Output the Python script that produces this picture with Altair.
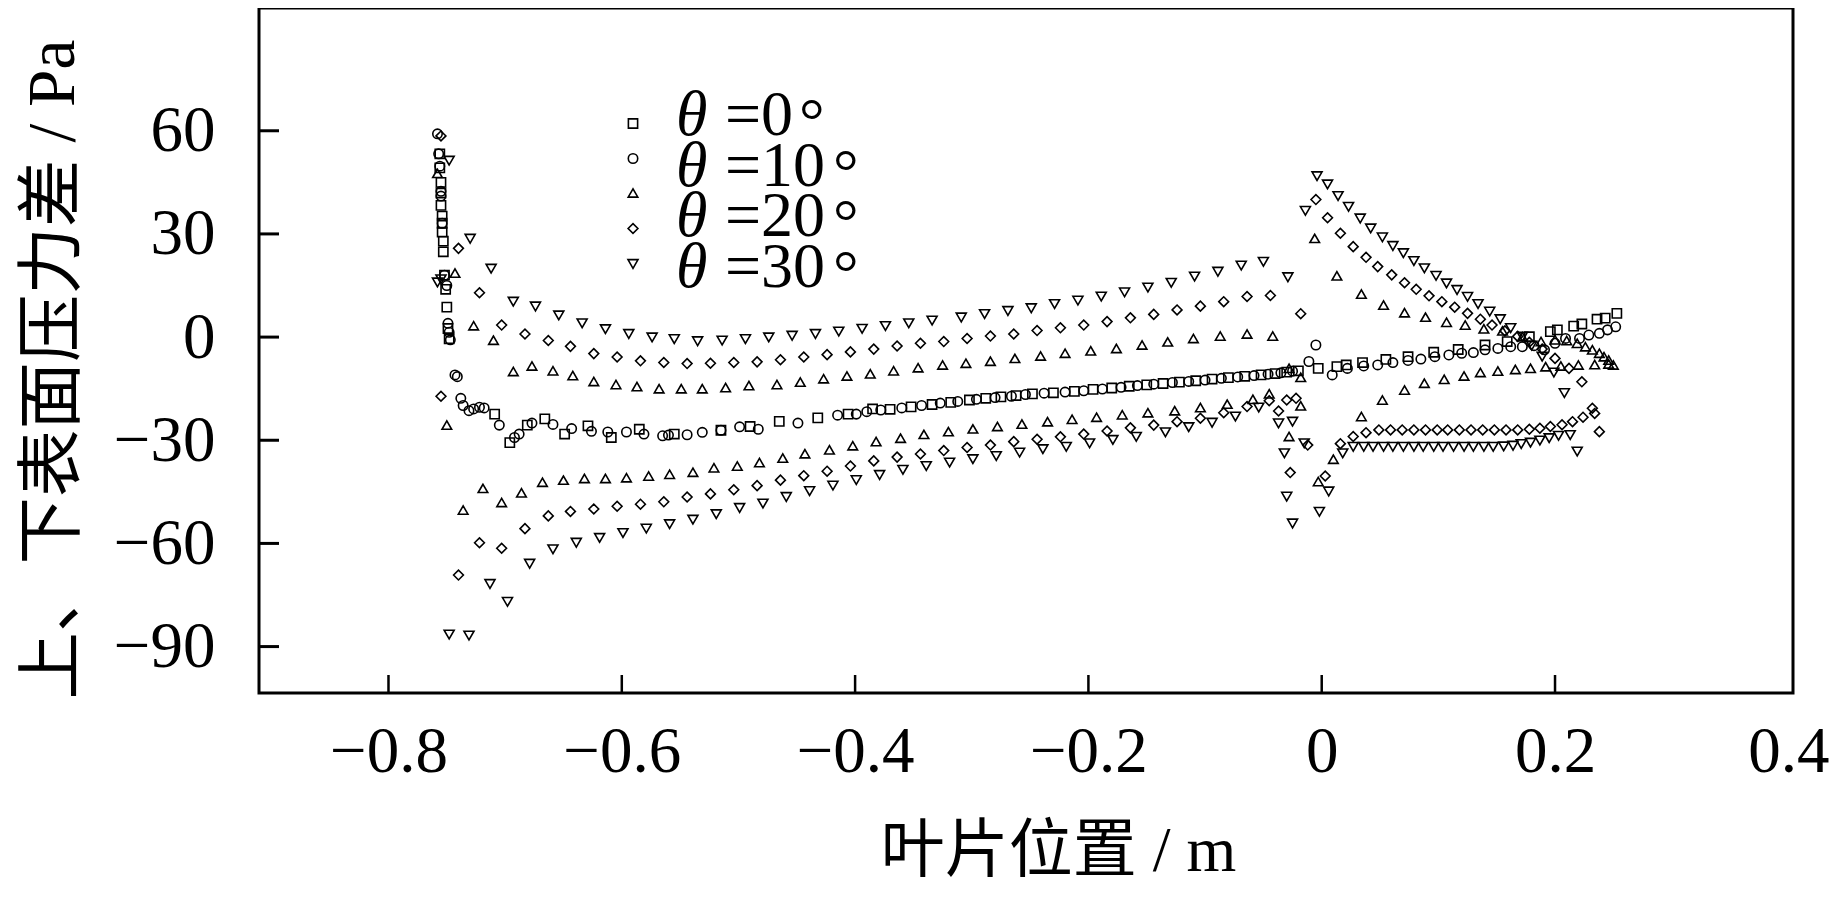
import altair as alt
import pandas as pd

# ---------------- data ----------------
SERIES = ["□", "○", "△", "◇", "▽"]
SHAPES = ["square", "circle", "triangle-up", "diamond", "triangle-down"]
LEGEND_LABELS = ["=0", "=10", "=20", "=30"]
DEGREE = "°"
X_TICKS = [-0.8, -0.6, -0.4, -0.2, 0, 0.2, 0.4]
Y_TICKS = [-90, -60, -30, 0, 30, 60]

SQUARE = [(-0.756, 53.3), (-0.756, 49.2), (-0.755, 45.0), (-0.755, 41.9), (-0.755, 38.3), (-0.754, 35.2),
          (-0.754, 33.1), (-0.754, 30.5), (-0.753, 27.9), (-0.753, 24.8), (-0.752, 18.0), (-0.751, 13.9),
          (-0.750, 8.7), (-0.749, 2.5), (-0.748, -0.5),
          (-0.709, -22.4), (-0.696, -30.7), (-0.681, -25.6), (-0.666, -23.8), (-0.649, -28.2), (-0.629, -25.8),
          (-0.609, -29.2), (-0.585, -26.8), (-0.555, -28.2), (-0.515, -27.1), (-0.490, -26.0), (-0.465, -24.5),
          (-0.432, -23.5), (-0.406, -22.4), (-0.385, -20.9),
          (-0.370, -21.0), (-0.352, -20.3), (-0.334, -19.6), (-0.318, -19.0), (-0.302, -18.3), (-0.288, -17.8),
          (-0.275, -17.4), (-0.262, -17.0), (-0.248, -16.5), (-0.230, -16.2), (-0.212, -15.8), (-0.196, -15.2),
          (-0.180, -14.8), (-0.165, -14.3), (-0.150, -13.9), (-0.136, -13.5), (-0.122, -13.1), (-0.108, -12.7),
          (-0.094, -12.2), (-0.080, -11.8), (-0.066, -11.4), (-0.052, -11.0), (-0.040, -10.6), (-0.030, -10.2),
          (-0.020, -9.8),
          (-0.003, -9.1), (0.013, -8.6), (0.021, -8.1), (0.035, -7.4), (0.055, -6.5), (0.074, -5.7), (0.096, -4.4),
          (0.117, -3.6), (0.140, -2.3), (0.159, -1.3), (0.178, 0.1), (0.196, 1.6), (0.202, 2.1), (0.216, 3.2),
          (0.223, 3.8), (0.236, 5.2), (0.243, 5.5), (0.253, 6.9)]

CIRCLE = [(-0.758, 59.1), (-0.757, 53.3), (-0.756, 49.7), (-0.755, 42.4), (-0.755, 41.0), (-0.754, 33.1),
          (-0.752, 18.0), (-0.750, 15.0), (-0.749, 4.0), (-0.748, 1.4), (-0.747, -0.8),
          (-0.743, -11.0), (-0.741, -11.5), (-0.738, -17.8), (-0.736, -19.9), (-0.731, -21.4), (-0.727, -20.9),
          (-0.722, -20.4), (-0.718, -20.6), (-0.705, -25.6), (-0.692, -29.2), (-0.688, -28.2), (-0.677, -25.0),
          (-0.659, -25.4), (-0.643, -26.6), (-0.626, -27.4), (-0.612, -27.6), (-0.596, -27.6), (-0.581, -28.2),
          (-0.565, -28.7), (-0.560, -28.5), (-0.544, -28.4), (-0.531, -27.7), (-0.515, -27.1), (-0.499, -26.1),
          (-0.483, -26.8), (-0.449, -25.0), (-0.415, -22.7), (-0.399, -22.4),
          (-0.390, -21.7), (-0.378, -21.2), (-0.360, -20.6), (-0.343, -19.9), (-0.327, -19.2), (-0.312, -18.7),
          (-0.296, -18.1), (-0.280, -17.6), (-0.266, -17.2), (-0.254, -16.7), (-0.238, -16.3), (-0.220, -16.0),
          (-0.204, -15.6), (-0.188, -15.1), (-0.172, -14.6), (-0.158, -14.1), (-0.144, -13.7), (-0.128, -13.2),
          (-0.114, -12.9), (-0.100, -12.5), (-0.086, -12.0), (-0.072, -11.6), (-0.058, -11.2), (-0.046, -10.8),
          (-0.035, -10.4), (-0.025, -9.9),
          (-0.011, -7.1), (-0.005, -2.3),
          (0.009, -11.0), (0.022, -9.1), (0.036, -8.4), (0.048, -8.1), (0.061, -7.4), (0.074, -6.8), (0.085, -6.4),
          (0.097, -5.7), (0.109, -5.2), (0.120, -4.7), (0.130, -4.5), (0.140, -3.7), (0.151, -3.3), (0.162, -2.8),
          (0.172, -2.8), (0.182, -2.5), (0.191, -3.7), (0.200, -1.8), (0.209, -0.4), (0.221, -0.4), (0.229, 0.6),
          (0.238, 1.1), (0.245, 2.1), (0.252, 3.0)]

TRI_UP = [(-0.758, 47.6), (-0.743, 18.6), (-0.727, 3.3), (-0.710, -0.9),
          (-0.693, -10.0), (-0.677, -8.4), (-0.659, -9.8), (-0.642, -11.2), (-0.624, -12.9), (-0.605, -13.8),
          (-0.587, -14.4), (-0.568, -15.0), (-0.549, -15.0), (-0.531, -15.0), (-0.511, -14.7), (-0.491, -14.1),
          (-0.467, -13.8), (-0.447, -13.1), (-0.427, -12.1), (-0.407, -11.3), (-0.387, -10.7), (-0.367, -9.8),
          (-0.346, -8.9), (-0.325, -8.1), (-0.305, -7.6), (-0.284, -7.0), (-0.263, -6.2), (-0.241, -5.5),
          (-0.220, -4.7), (-0.198, -4.0), (-0.176, -3.3), (-0.154, -2.3), (-0.132, -1.4), (-0.110, -0.4),
          (-0.087, 0.3), (-0.064, 0.9), (-0.042, 0.3),
          (-0.750, -25.6), (-0.736, -50.3), (-0.719, -44.0), (-0.703, -48.1), (-0.686, -45.3), (-0.668, -42.2),
          (-0.650, -41.6), (-0.632, -41.1), (-0.614, -41.1), (-0.596, -40.9), (-0.577, -40.4), (-0.559, -39.9),
          (-0.539, -39.3), (-0.521, -38.0), (-0.501, -37.5), (-0.482, -36.5), (-0.462, -35.2), (-0.443, -33.9),
          (-0.422, -32.8), (-0.402, -31.6), (-0.382, -30.4), (-0.361, -29.4), (-0.341, -28.3), (-0.320, -27.5),
          (-0.299, -26.7), (-0.278, -26.0), (-0.257, -25.3), (-0.235, -24.6), (-0.214, -23.9), (-0.193, -23.3),
          (-0.171, -22.6), (-0.149, -22.0), (-0.126, -21.4), (-0.104, -20.5), (-0.081, -19.5), (-0.059, -18.1),
          (-0.045, -16.5), (-0.028, -9.1), (-0.018, -11.7), (-0.018, -20.0), (-0.028, -28.9), (-0.003, -42.0),
          (-0.006, 28.7), (0.013, 17.8), (0.034, 12.5), (0.053, 9.3), (0.071, 7.1), (0.089, 5.8), (0.107, 4.3),
          (0.123, 3.5), (0.139, 2.4), (0.155, 1.8), (0.172, 0.1), (0.188, -1.3), (0.200, -0.8), (0.210, -1.0),
          (0.219, -1.8), (0.226, -2.8), (0.232, -3.7), (0.238, -4.7), (0.242, -5.7), (0.246, -6.7), (0.250, -8.1),
          (0.010, -35.5), (0.034, -23.1), (0.052, -18.3), (0.071, -15.4), (0.088, -13.4), (0.105, -12.3),
          (0.122, -11.3), (0.136, -10.3), (0.151, -9.9), (0.166, -9.4), (0.179, -9.1), (0.192, -8.6),
          (0.205, -8.4), (0.220, -8.1), (0.234, -8.0), (0.246, -7.8)]

DIAMOND = [(-0.755, 58.5), (-0.740, 25.8), (-0.722, 12.9), (-0.703, 3.5), (-0.683, 0.9), (-0.663, -1.0),
           (-0.644, -2.7), (-0.624, -4.8), (-0.604, -5.8), (-0.584, -6.9), (-0.564, -7.4), (-0.544, -7.7),
           (-0.524, -7.6), (-0.504, -7.4), (-0.484, -7.2), (-0.464, -6.6), (-0.444, -5.8), (-0.424, -5.1),
           (-0.404, -4.3), (-0.384, -3.5), (-0.364, -2.6), (-0.344, -1.8), (-0.324, -1.3), (-0.304, -0.4),
           (-0.284, 0.3), (-0.264, 0.9), (-0.244, 1.9), (-0.224, 2.7), (-0.204, 3.5), (-0.184, 4.5),
           (-0.164, 5.6), (-0.144, 6.6), (-0.124, 7.9), (-0.104, 9.0), (-0.084, 10.3), (-0.064, 11.8),
           (-0.044, 12.1), (-0.018, 6.8),
           (-0.755, -17.2), (-0.740, -69.2), (-0.722, -59.8), (-0.703, -61.4), (-0.683, -55.7), (-0.663, -52.0),
           (-0.644, -50.7), (-0.624, -50.0), (-0.604, -49.2), (-0.584, -48.6), (-0.564, -47.9), (-0.544, -46.5),
           (-0.524, -45.6), (-0.504, -44.4), (-0.484, -43.2), (-0.464, -41.6), (-0.444, -40.3), (-0.424, -39.0),
           (-0.404, -37.5), (-0.384, -36.0), (-0.364, -34.9), (-0.344, -34.0), (-0.324, -33.0), (-0.304, -32.1),
           (-0.284, -31.4), (-0.264, -30.4), (-0.244, -29.7), (-0.224, -29.0), (-0.204, -28.2), (-0.184, -27.3),
           (-0.164, -26.4), (-0.144, -25.6), (-0.124, -24.6), (-0.104, -23.6), (-0.084, -22.0), (-0.064, -20.2),
           (-0.045, -18.5), (-0.037, -21.5), (-0.030, -18.3), (-0.022, -17.8), (-0.012, -31.4), (-0.027, -39.4),
           (0.003, -40.4),
           (-0.005, 40.0), (0.005, 34.7), (0.016, 30.2), (0.027, 26.3), (0.038, 23.2), (0.048, 20.5), (0.060, 18.1),
           (0.071, 15.8), (0.081, 13.9), (0.092, 12.0), (0.103, 10.3), (0.114, 8.7), (0.125, 6.9), (0.136, 5.2),
           (0.146, 3.5), (0.157, 1.8), (0.168, 0.2), (0.178, -1.5), (0.189, -3.5), (0.200, -6.2), (0.212, -9.1),
           (0.223, -13.0),
           (0.016, -31.0), (0.027, -28.9), (0.038, -27.8), (0.049, -27.0), (0.059, -27.0), (0.069, -27.0),
           (0.079, -27.0), (0.089, -27.0), (0.099, -27.0), (0.108, -27.0), (0.118, -27.0), (0.128, -27.0),
           (0.138, -27.0), (0.148, -27.0), (0.158, -27.0), (0.168, -27.0), (0.178, -26.8), (0.187, -26.5),
           (0.196, -26.0), (0.206, -25.5), (0.215, -24.6), (0.224, -23.3), (0.232, -20.7), (0.234, -22.2),
           (0.238, -27.5)]

TRI_DOWN = [(-0.748, 51.3), (-0.730, 28.6), (-0.758, 15.9), (-0.755, 16.8), (-0.712, 19.9), (-0.693, 10.3),
            (-0.674, 8.9), (-0.654, 6.3), (-0.634, 4.0), (-0.614, 2.3), (-0.594, 0.9), (-0.574, -0.1),
            (-0.555, -0.6), (-0.535, -1.2), (-0.514, -1.0), (-0.494, -0.6), (-0.474, -0.1), (-0.454, 0.4),
            (-0.434, 0.9), (-0.414, 1.6), (-0.394, 2.4), (-0.374, 3.2), (-0.354, 4.0), (-0.334, 4.8),
            (-0.309, 5.7), (-0.289, 6.7), (-0.269, 7.6), (-0.249, 8.4), (-0.229, 9.6), (-0.209, 10.6),
            (-0.189, 11.8), (-0.169, 13.0), (-0.149, 14.4), (-0.129, 15.8), (-0.109, 17.6), (-0.089, 19.0),
            (-0.069, 20.8), (-0.050, 21.9), (-0.029, 17.4),
            (-0.748, -86.5), (-0.731, -86.8), (-0.713, -71.8), (-0.698, -77.0), (-0.679, -65.9), (-0.659, -61.7),
            (-0.639, -59.8), (-0.619, -58.4), (-0.599, -57.0), (-0.579, -55.7), (-0.559, -54.4), (-0.539, -53.1),
            (-0.519, -51.5), (-0.499, -49.7), (-0.479, -48.4), (-0.459, -46.5), (-0.439, -44.8), (-0.419, -43.2),
            (-0.399, -41.6), (-0.379, -40.1), (-0.359, -38.6), (-0.339, -37.5), (-0.319, -36.5), (-0.299, -35.5),
            (-0.279, -34.6), (-0.259, -33.6), (-0.239, -32.6), (-0.219, -31.9), (-0.199, -30.9), (-0.179, -29.9),
            (-0.159, -29.0), (-0.134, -27.7), (-0.114, -26.2), (-0.094, -24.9), (-0.074, -23.1), (-0.054, -20.5),
            (-0.037, -25.1), (-0.032, -33.8), (-0.025, -24.6), (-0.015, -30.9), (-0.030, -46.4), (-0.025, -54.2),
            (-0.002, -50.8), (0.006, -44.9),
            (-0.014, 36.7), (-0.004, 46.8), (0.005, 44.4), (0.014, 41.0), (0.023, 37.9), (0.033, 34.5),
            (0.042, 31.6), (0.052, 29.0), (0.061, 26.5), (0.070, 24.4), (0.079, 22.1), (0.088, 20.0),
            (0.098, 17.8), (0.107, 15.6), (0.116, 13.7), (0.125, 11.7), (0.134, 9.6), (0.144, 7.4),
            (0.153, 5.2), (0.162, 2.6), (0.172, 0.1), (0.180, -2.5), (0.189, -5.7), (0.199, -10.3), (0.208, -16.3),
            (0.018, -33.8), (0.027, -31.9), (0.036, -31.9), (0.044, -31.9), (0.053, -31.9), (0.061, -31.9),
            (0.070, -31.9), (0.079, -31.9), (0.087, -31.9), (0.096, -31.9), (0.104, -31.9), (0.113, -31.9),
            (0.122, -31.9), (0.130, -31.9), (0.139, -31.9), (0.147, -31.9), (0.156, -31.8), (0.164, -31.6),
            (0.171, -31.1), (0.179, -30.7), (0.187, -30.1), (0.195, -29.4), (0.203, -28.7), (0.213, -28.5),
            (0.219, -33.3)]

# ---------------- build table ----------------
rows = []
for key, pts in zip(SERIES, [SQUARE, CIRCLE, TRI_UP, DIAMOND, TRI_DOWN]):
    for px, py in pts:
        rows.append({"x": px, "y": py, "s": key})
df = pd.DataFrame(rows)

SERIF = "Liberation Serif"
SERIF_CJK = "Liberation Serif, Noto Sans CJK SC"
W, H = 1534, 685

xscale = alt.Scale(domain=[-0.911, 0.404], nice=False, zero=False)
yscale = alt.Scale(domain=[-103.5, 95.7], nice=False, zero=False)

x_axis = alt.Axis(values=X_TICKS, ticks=False, domain=False, grid=False,
                  labelExpr="datum.value == 0 ? '0' : format(datum.value, '.1f')",
                  labelPadding=27, labelFontSize=65, labelFont=SERIF, labelColor="black",
                  labelFlush=False, labelOverlap=False,
                  title="叶片位置 / m", titleFont=SERIF_CJK, titleFontSize=64,
                  titleFontWeight="normal", titleColor="black",
                  titleX=799, titleY=177, titleAlign="center", titleBaseline="alphabetic")
y_axis = alt.Axis(values=Y_TICKS, format="d", ticks=False, domain=False, grid=False,
                  labelPadding=44, labelFontSize=65, labelFont=SERIF, labelColor="black",
                  labelFlush=False, labelOverlap=False,
                  title="上、下表面压力差 / Pa", titleFont=SERIF_CJK, titleFontSize=67.5,
                  titleFontWeight="normal", titleColor="black", titleAngle=270,
                  titleX=-206, titleY=361, titleAlign="center", titleBaseline="middle")

sym_legend = alt.Legend(orient="none", legendX=368, legendY=110, title=None,
                        labelExpr="''", labelFontSize=1, rowPadding=18.5, padding=0,
                        symbolStrokeColor="black", symbolStrokeWidth=1.6,
                        symbolFillColor="transparent")

points = alt.Chart(df).mark_point(filled=False, color="black", strokeWidth=1.6, opacity=1).encode(
    x=alt.X("x:Q", scale=xscale, axis=x_axis),
    y=alt.Y("y:Q", scale=yscale, axis=y_axis),
    shape=alt.Shape("s:O", scale=alt.Scale(domain=SERIES, range=SHAPES), legend=sym_legend),
    size=alt.Size("s:O", scale=alt.Scale(domain=SERIES, range=[85, 100, 165, 180, 165]), legend=sym_legend),
)

yticks = alt.Chart(pd.DataFrame({"y": Y_TICKS})).mark_rule(color="black", strokeWidth=3).encode(
    y=alt.Y("y:Q", scale=yscale, axis=y_axis), x=alt.value(0), x2=alt.value(20))
xticks = alt.Chart(pd.DataFrame({"x": [t for t in X_TICKS if t < 0.4]})).mark_rule(
    color="black", strokeWidth=2.5).encode(
    x=alt.X("x:Q", scale=xscale, axis=x_axis), y=alt.value(H), y2=alt.value(H - 18))

one = pd.DataFrame({"k": [0]})
LH = 50.6
txt = dict(font=SERIF, fontSize=64, align="left", baseline="alphabetic", lineBreak="\n",
           lineHeight=LH, color="black")
theta_txt = alt.Chart(one).mark_text(fontStyle="italic", **txt).encode(
    x=alt.value(417), y=alt.value(127), text=alt.value("\n".join(["θ"] * len(LEGEND_LABELS))))
label_txt = alt.Chart(one).mark_text(**txt).encode(
    x=alt.value(466), y=alt.value(127), text=alt.value("\n".join(LEGEND_LABELS)))
# degree rings, sitting a little lower than the usual degree sign
ring1 = alt.Chart(one).mark_text(**txt).encode(
    x=alt.value(540), y=alt.value(134), text=alt.value(DEGREE))
ring2 = alt.Chart(one).mark_text(**txt).encode(
    x=alt.value(574), y=alt.value(134 + LH),
    text=alt.value("\n".join([DEGREE] * (len(LEGEND_LABELS) - 1))))

chart = alt.layer(points, yticks, xticks, theta_txt, label_txt, ring1, ring2).properties(
    width=W, height=H,
    autosize=alt.AutoSizeParams(type="none"),
    padding={"left": 251, "top": 0, "right": 40, "bottom": 195},
    background="white",
).configure_view(stroke="black", strokeWidth=3).configure_axis(
    grid=False
)

chart.save("out.html", embed_options={"renderer": "svg", "actions": False})
